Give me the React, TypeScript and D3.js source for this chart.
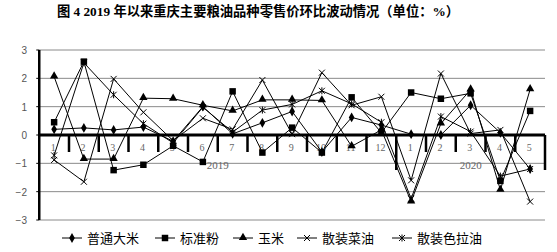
import React from "react";
import * as d3 from "d3";

const months = ["1","2","3","4","5","6","7","8","9","10","11","12","1","2","3","4","5"];
const years = [
  { label: "2019", start: 0, end: 12 },
  { label: "2020", start: 12, end: 17 },
];
const yTicks = [3, 2, 1, 0, -1, -2, -3];

const rice = [0.2, 0.25, 0.18, 0.28, -0.22, 1.0, 0.04, 0.43, 0.83, -0.6, 0.62, 0.35, 0.03, 0.0, 1.05, 0.08, -1.2];
const flour = [0.45, 2.59, -1.24, -1.05, -0.38, -0.95, 1.54, -0.62, 0.26, -0.62, 1.33, 0.08, 1.5, 1.28, 1.47, -1.62, 0.85];
const corn = [2.06, -0.85, -0.85, 1.3, 1.28, 1.05, 0.85, 1.24, 1.24, 1.22, -0.4, 0.18, -2.35, 0.4, 1.6, -1.94, 1.61];
const rapeOil = [-0.88, -1.65, 1.98, 0.8, -0.2, 0.59, 0.2, 1.94, 0.03, 2.2, 1.05, 1.35, -1.6, 2.17, 0.05, 0.18, -2.35];
const saladOil = [-0.72, 2.55, 1.42, 0.4, -0.28, 0.98, 0.1, 0.88, 1.08, 1.56, 1.1, 0.45, -2.25, 0.65, 0.12, -1.45, -1.2];

const seriesNames = ["普通大米", "标准粉", "玉米", "散装菜油", "散装色拉油"];
const seriesValues = [rice, flour, corn, rapeOil, saladOil];
const seriesMarkers = ["diamond", "square", "triangle", "x", "asterisk"];

const title = "图 4 2019 年以来重庆主要粮油品种零售价环比波动情况（单位：%）";

function Marker({ type, x, y }: { type: string; x: number; y: number }) {
  if (type === "diamond") {
    const p = d3.symbol().type(d3.symbolDiamond).size(28)();
    return <path d={p || ""} transform={`translate(${x},${y})`} fill="#000" />;
  }
  if (type === "square") {
    const p = d3.symbol().type(d3.symbolSquare).size(42)();
    return <path d={p || ""} transform={`translate(${x},${y})`} fill="#000" />;
  }
  if (type === "triangle") {
    const p = d3.symbol().type(d3.symbolTriangle).size(30)();
    return <path d={p || ""} transform={`translate(${x},${y - 0.5})`} fill="#000" />;
  }
  const s = 3;
  let d = `M${-s},${-s}L${s},${s}M${-s},${s}L${s},${-s}`;
  if (type === "asterisk") d += `M0,${-s - 0.5}L0,${s + 0.5}`;
  return <path d={d} transform={`translate(${x},${y})`} stroke="#000" strokeWidth={1} fill="none" />;
}

export default function App() {
  const W = 557, H = 252;
  const left = 39.25, right = 545, top = 50, bottom = 220;
  const x = d3.scaleBand<number>().domain(d3.range(months.length)).range([left, right]).padding(0);
  const bw = x.bandwidth();
  const cx = (i: number) => (x(i) as number) + bw / 2;
  const y = d3.scaleLinear().domain([-3, 3]).range([bottom, top]);
  const line = d3.line<number>().x((_, i) => cx(i)).y((v) => y(v));
  const y0 = y(0);

  const legendX = [62, 155, 233, 297, 392];

  return (
    <svg width={W} height={H} style={{ position: "absolute", left: 0, top: 0, background: "#fff" }}>
      <text x={258} y={16} textAnchor="middle" fontSize={13.3} fontWeight="bold"
        fontFamily="'Liberation Serif', 'Noto Sans CJK SC', serif" fill="#000">{title}</text>

      {yTicks.map((t) => (
        <line key={"g" + t} x1={left} x2={right} y1={y(t)} y2={y(t)} stroke="#8a8a8a" strokeWidth={1} />
      ))}
      {yTicks.map((t) => (
        <line key={"yt" + t} x1={left - 3} x2={left} y1={y(t)} y2={y(t)} stroke="#000" strokeWidth={1} />
      ))}
      {yTicks.map((t) => (
        <text key={"yl" + t} x={27} y={y(t) + 4} textAnchor="end" fontSize={10}
          fontFamily="'Liberation Sans', Arial, sans-serif" fill="#555">{t < 0 ? "\u2212" + Math.abs(t) : String(t)}</text>
      ))}
      <line x1={left} x2={left} y1={top} y2={bottom} stroke="#000" strokeWidth={2.5} />
      <line x1={left} x2={right} y1={y0} y2={y0} stroke="#000" strokeWidth={3} />

      {d3.range(1, months.length + 1).map((k) => {
        const xx = left + k * bw;
        const isYear = years.some((yr) => yr.end === k);
        return <line key={"ct" + k} x1={xx} x2={xx} y1={y0} y2={isYear ? 170 : 152} stroke="#000" strokeWidth={2.5} />;
      })}
      {months.map((m, i) => (
        <text key={"ml" + i} x={cx(i) - 1} y={151} textAnchor="middle" fontSize={10}
          fontFamily="'Liberation Serif', serif" fill="#666">{m}</text>
      ))}
      {years.map((yr) => (
        <text key={yr.label} x={(left + yr.start * bw + left + yr.end * bw) / 2} y={169} textAnchor="middle" fontSize={11}
          fontFamily="'Liberation Serif', serif" fill="#666">{yr.label}</text>
      ))}

      {seriesValues.map((vals, si) => (
        <g key={"s" + si}>
          <path d={line(vals) || ""} fill="none" stroke="#000" strokeWidth={1} />
          {vals.map((v, i) => (
            <Marker key={i} type={seriesMarkers[si]} x={cx(i)} y={y(v)} />
          ))}
        </g>
      ))}

      {seriesNames.map((n, si) => (
        <g key={"lg" + si}>
          <line x1={legendX[si]} x2={legendX[si] + 20} y1={238} y2={238} stroke="#000" strokeWidth={1} />
          <Marker type={seriesMarkers[si]} x={legendX[si] + 10} y={238} />
          <text x={legendX[si] + 25} y={243} fontSize={13} fontFamily="'Noto Sans CJK SC', sans-serif" fill="#000">{n}</text>
        </g>
      ))}
    </svg>
  );
}
